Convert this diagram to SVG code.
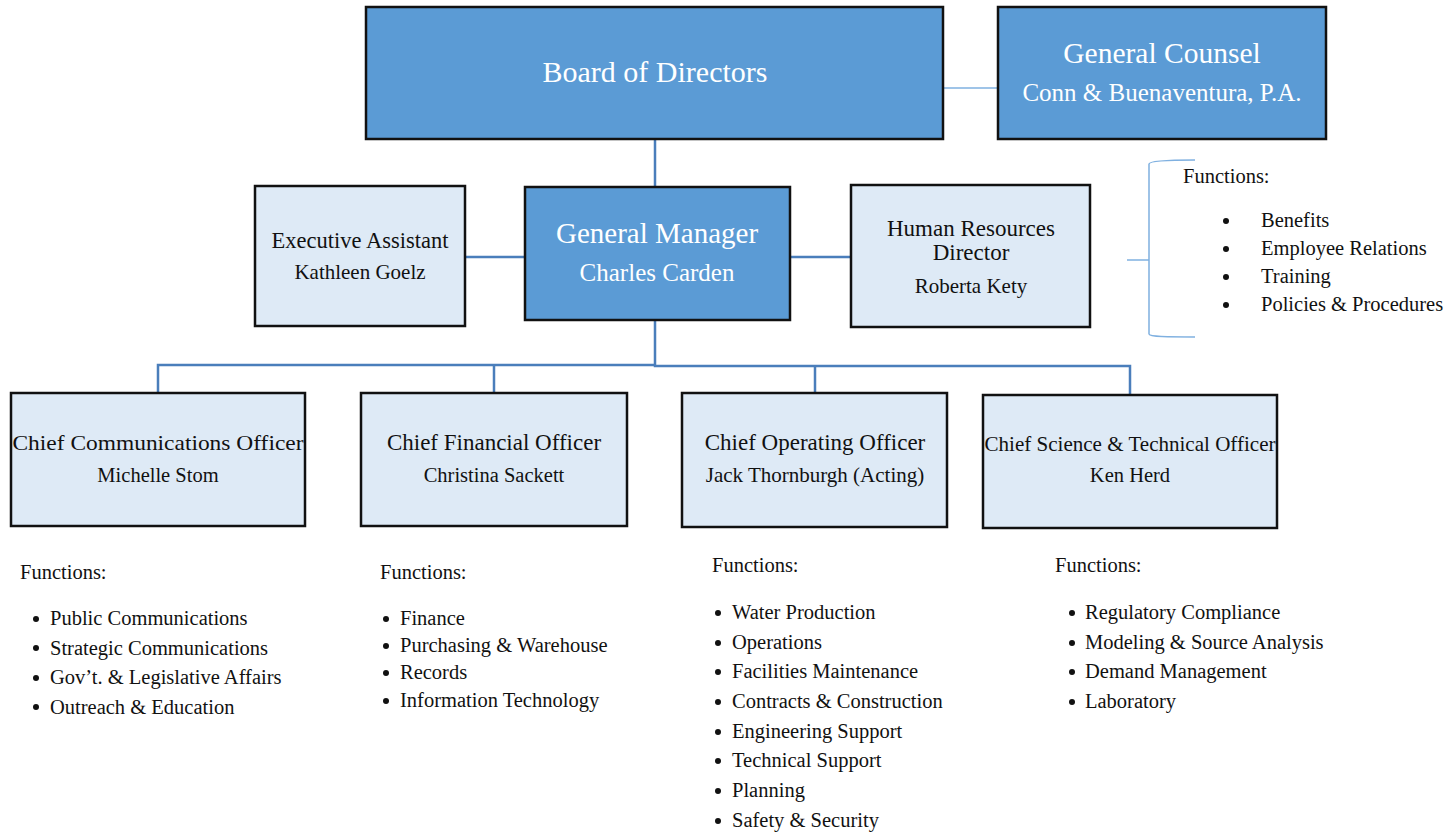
<svg xmlns="http://www.w3.org/2000/svg" width="1455" height="833" viewBox="0 0 1455 833">
<style>
.dk{fill:#5b9bd5;stroke:#111;stroke-width:2.5}
.lt{fill:#deeaf6;stroke:#111;stroke-width:2.5}
.t{font-family:"Liberation Serif",serif;text-anchor:middle}
.w{fill:#fff}
.b{fill:#111}
.f{font-family:"Liberation Serif",serif;font-size:20.5px;fill:#111}
.con{fill:none;stroke:#4a7ebb;stroke-width:2.5}
.con2{fill:none;stroke:#7fb0e0;stroke-width:1.5}
</style>
<g id="connectors">
<line class="con2" x1="943" y1="88" x2="998" y2="88"/>
<line class="con" x1="655" y1="139" x2="655" y2="187"/>
<line class="con" x1="465" y1="257" x2="525" y2="257"/>
<line class="con" x1="790" y1="257" x2="851" y2="257"/>
<polyline class="con" points="655,320 655,366 1130,366 1130,395"/>
<polyline class="con" points="655,365 158,365 158,393"/>
<line class="con" x1="494" y1="365" x2="494" y2="393"/>
<line class="con" x1="815" y1="366" x2="815" y2="393"/>
<line class="con2" x1="1127" y1="260" x2="1149" y2="260"/>
<path class="con2" d="M1195,160 C1170,160 1149,161 1149,164 L1149,334 C1149,337 1170,337 1195,337"/>
</g>
<g id="board">
<rect class="dk" x="366" y="7" width="577" height="132"/>
<text class="t w" x="655" y="82" font-size="30">Board of  Directors</text>
</g>
<g id="counsel">
<rect class="dk" x="998" y="7" width="328" height="132"/>
<text class="t w" x="1162" y="63" font-size="29.5">General Counsel</text>
<text class="t w" x="1162" y="101" font-size="25">Conn &amp; Buenaventura, P.A.</text>
</g>
<g id="exec-assistant">
<rect class="lt" x="255" y="186" width="210" height="140"/>
<text class="t b" x="360" y="248" font-size="22.5">Executive Assistant</text>
<text class="t b" x="360" y="279" font-size="21">Kathleen Goelz</text>
</g>
<g id="gm">
<rect class="dk" x="525" y="187" width="265" height="133"/>
<text class="t w" x="657" y="243" font-size="29">General Manager</text>
<text class="t w" x="657" y="281" font-size="25">Charles Carden</text>
</g>
<g id="hr">
<rect class="lt" x="851" y="185" width="239" height="142"/>
<text class="t b" x="971" y="236" font-size="23">Human Resources</text>
<text class="t b" x="971" y="260" font-size="23">Director</text>
<text class="t b" x="971" y="293" font-size="21">Roberta Kety</text>
</g>
<g id="hr-functions">
<text class="f" x="1183" y="183">Functions:</text>
<g class="f">
<circle cx="1226" cy="221" r="3" fill="#111"/><text x="1261" y="227">Benefits</text>
<circle cx="1226" cy="249" r="3" fill="#111"/><text x="1261" y="255">Employee Relations</text>
<circle cx="1226" cy="277" r="3" fill="#111"/><text x="1261" y="283">Training</text>
<circle cx="1226" cy="305" r="3" fill="#111"/><text x="1261" y="311">Policies &amp; Procedures</text>
</g>
</g>
<g id="cco">
<rect class="lt" x="11" y="393" width="294" height="133"/>
<text class="t b" x="158" y="450" font-size="22" textLength="291" lengthAdjust="spacingAndGlyphs">Chief Communications Officer</text>
<text class="t b" x="158" y="482" font-size="20.5">Michelle Stom</text>
</g>
<g id="cfo">
<rect class="lt" x="361" y="393" width="266" height="133"/>
<text class="t b" x="494" y="450" font-size="23">Chief Financial Officer</text>
<text class="t b" x="494" y="482" font-size="20.5">Christina Sackett</text>
</g>
<g id="coo">
<rect class="lt" x="682" y="393" width="265" height="134"/>
<text class="t b" x="815" y="450" font-size="23">Chief Operating Officer</text>
<text class="t b" x="815" y="482" font-size="21">Jack Thornburgh (Acting)</text>
</g>
<g id="csto">
<rect class="lt" x="983" y="395" width="294" height="133"/>
<text class="t b" x="1130" y="451" font-size="22" textLength="291" lengthAdjust="spacingAndGlyphs">Chief Science &amp; Technical Officer</text>
<text class="t b" x="1130" y="482" font-size="20.5">Ken Herd</text>
</g>
<g id="cco-functions" class="f">
<text x="20" y="579">Functions:</text>
<circle cx="36" cy="619" r="3" fill="#111"/><text x="50" y="625">Public Communications</text>
<circle cx="36" cy="648" r="3" fill="#111"/><text x="50" y="655">Strategic Communications</text>
<circle cx="36" cy="678" r="3" fill="#111"/><text x="50" y="684">Gov’t. &amp; Legislative Affairs</text>
<circle cx="36" cy="707" r="3" fill="#111"/><text x="50" y="714">Outreach &amp; Education</text>
</g>
<g id="cfo-functions" class="f">
<text x="380" y="579">Functions:</text>
<circle cx="386" cy="619" r="3" fill="#111"/><text x="400" y="625">Finance</text>
<circle cx="386" cy="646" r="3" fill="#111"/><text x="400" y="652">Purchasing &amp; Warehouse</text>
<circle cx="386" cy="673" r="3" fill="#111"/><text x="400" y="679">Records</text>
<circle cx="386" cy="701" r="3" fill="#111"/><text x="400" y="707">Information Technology</text>
</g>
<g id="coo-functions" class="f">
<text x="712" y="572">Functions:</text>
<circle cx="718" cy="613" r="3" fill="#111"/><text x="732" y="619">Water Production</text>
<circle cx="718" cy="643" r="3" fill="#111"/><text x="732" y="649">Operations</text>
<circle cx="718" cy="672" r="3" fill="#111"/><text x="732" y="678">Facilities Maintenance</text>
<circle cx="718" cy="702" r="3" fill="#111"/><text x="732" y="708">Contracts &amp; Construction</text>
<circle cx="718" cy="732" r="3" fill="#111"/><text x="732" y="738">Engineering Support</text>
<circle cx="718" cy="761" r="3" fill="#111"/><text x="732" y="767">Technical Support</text>
<circle cx="718" cy="791" r="3" fill="#111"/><text x="732" y="797">Planning</text>
<circle cx="718" cy="821" r="3" fill="#111"/><text x="732" y="827">Safety &amp; Security</text>
</g>
<g id="csto-functions" class="f">
<text x="1055" y="572">Functions:</text>
<circle cx="1072" cy="613" r="3" fill="#111"/><text x="1085" y="619">Regulatory Compliance</text>
<circle cx="1072" cy="643" r="3" fill="#111"/><text x="1085" y="649">Modeling &amp; Source Analysis</text>
<circle cx="1072" cy="672" r="3" fill="#111"/><text x="1085" y="678">Demand Management</text>
<circle cx="1072" cy="702" r="3" fill="#111"/><text x="1085" y="708">Laboratory</text>
</g>
</svg>
